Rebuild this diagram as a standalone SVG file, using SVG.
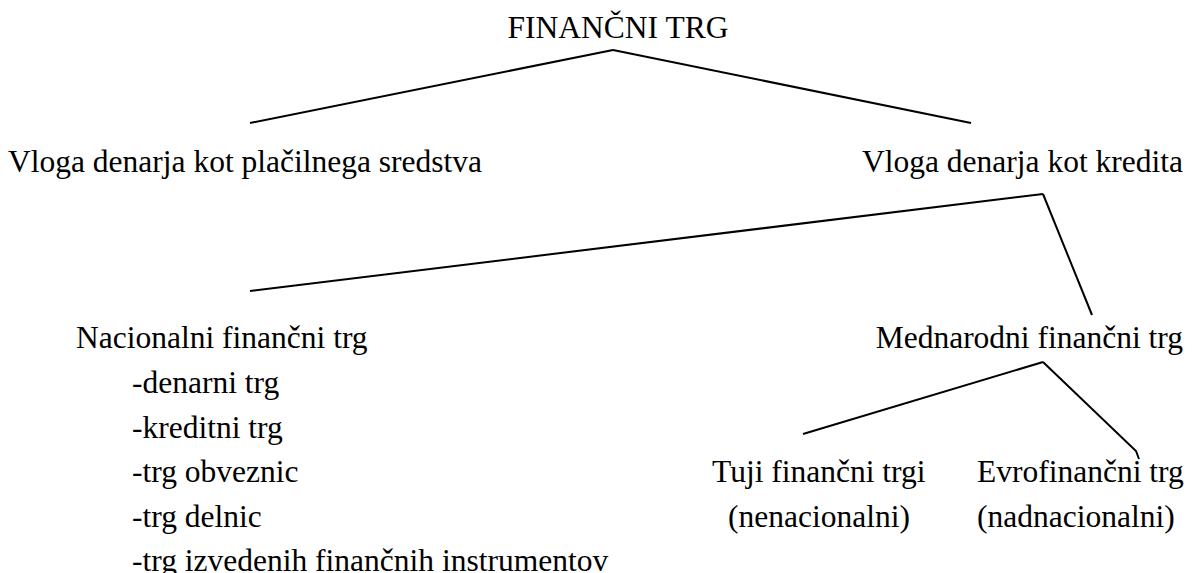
<svg xmlns="http://www.w3.org/2000/svg" width="1192" height="573" viewBox="0 0 1192 573">
<style>
text{font-family:"Liberation Serif","Times New Roman",serif;font-size:31.5px;fill:#000}
.c{fill:none;stroke:#000;stroke-width:2}
</style>
<rect width="1192" height="573" fill="#fff"/>
<g id="connectors">
<line class="c" x1="613" y1="50" x2="250" y2="123"/>
<line class="c" x1="613" y1="50" x2="971" y2="123"/>
<line class="c" x1="1043" y1="194" x2="250" y2="291"/>
<line class="c" x1="1043" y1="194" x2="1092" y2="315"/>
<line class="c" x1="1043" y1="362" x2="803" y2="434"/>
<polyline class="c" points="1043,362 1136,451 1139,459"/>
</g>
<g id="root"><text x="618" y="38" text-anchor="middle">FINANČNI TRG</text></g>
<g id="placilno"><text x="8" y="172">Vloga denarja kot plačilnega sredstva</text></g>
<g id="kredit"><text x="1183" y="172" text-anchor="end">Vloga denarja kot kredita</text></g>
<g id="nacionalni">
<text x="76" y="348">Nacionalni finančni trg</text>
<text x="132" y="393">-denarni trg</text>
<text x="132" y="437.5">-kreditni trg</text>
<text x="132" y="482">-trg obveznic</text>
<text x="132" y="526.5">-trg delnic</text>
<text x="132" y="571">-trg izvedenih finančnih instrumentov</text>
</g>
<g id="mednarodni"><text x="1183" y="348" text-anchor="end">Mednarodni finančni trg</text></g>
<g id="tuji">
<text x="712" y="482">Tuji finančni trgi</text>
<text x="728" y="526.5">(nenacionalni)</text>
</g>
<g id="evro">
<text x="977" y="482">Evrofinančni trg</text>
<text x="977" y="526.5">(nadnacionalni)</text>
</g>
</svg>
